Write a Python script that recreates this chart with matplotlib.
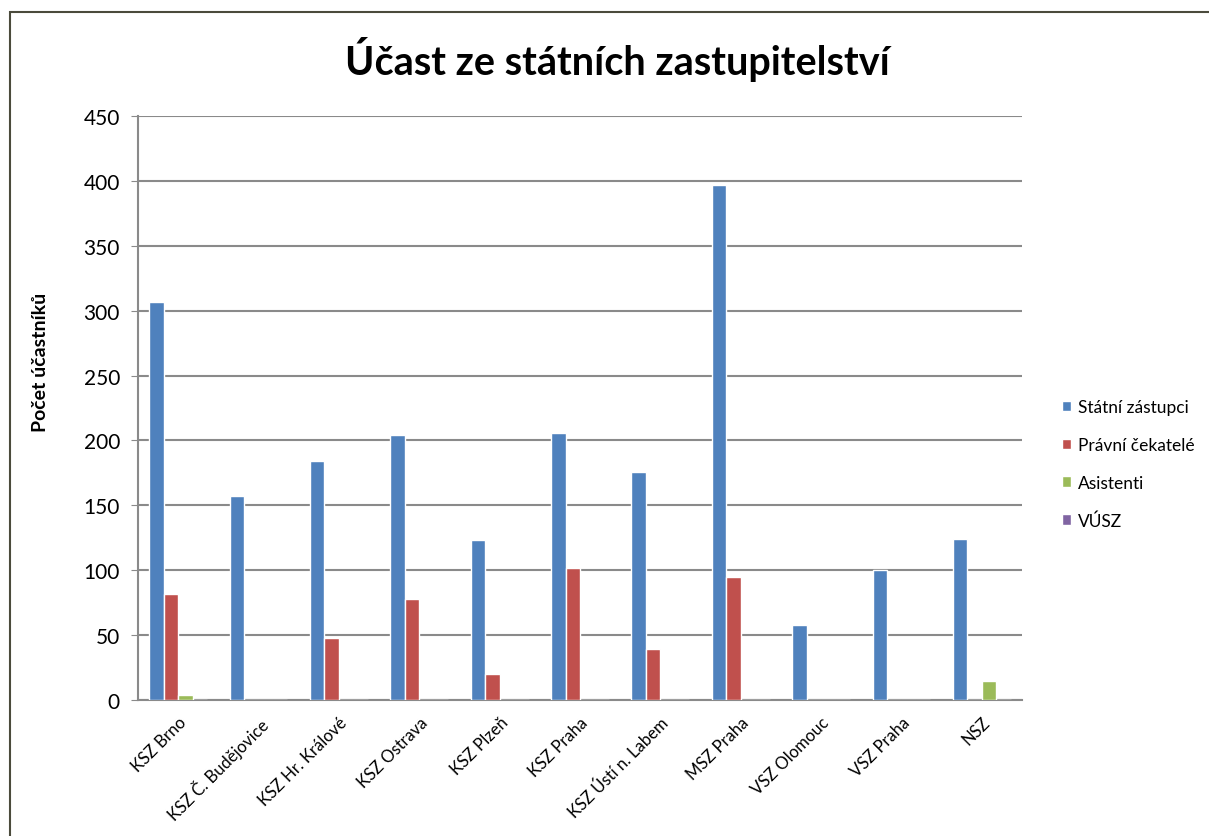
import matplotlib.pyplot as plt
import numpy as np
from matplotlib.patches import Rectangle

plt.rcParams['font.family'] = ['Lato', 'Open Sans', 'DejaVu Sans']

CATEGORIES = ["KSZ Brno", "KSZ Č. Budějovice", "KSZ Hr. Králové", "KSZ Ostrava",
              "KSZ Plzeň", "KSZ Praha", "KSZ Ústí n. Labem", "MSZ Praha",
              "VSZ Olomouc", "VSZ Praha", "NSZ"]
STATNI_ZASTUPCI = [307, 157, 184, 204, 123, 206, 176, 397, 58, 100, 124]
PRAVNI_CEKATELE = [82, 0, 48, 78, 20, 102, 39, 95, 0, 0, 0]
ASISTENTI = [4, 0, 0, 0, 0, 0, 0, 0, 0, 0, 15]
VUSZ = [0, 0, 0, 0, 0, 0, 0, 0, 0, 0, 0]

SERIES = [
    ("Státní zástupci", STATNI_ZASTUPCI, "#4F81BD"),
    ("Právní čekatelé", PRAVNI_CEKATELE, "#C0504D"),
    ("Asistenti", ASISTENTI, "#9BBB59"),
    ("VÚSZ", VUSZ, "#8064A2"),
]


def main():
    fig = plt.figure(figsize=(12.09, 8.37), dpi=100)
    # outer chart frame, cut off on the right and bottom like the reference
    fig.patches.append(Rectangle((10 / 1209, -0.05), 1.2, 1 - 13 / 837 + 0.05,
                                 transform=fig.transFigure, fill=False,
                                 edgecolor="#4b4b3c", linewidth=1.5))

    ax = fig.add_axes([138 / 1209, 1 - 701 / 837, 884 / 1209, 584 / 837])
    x = np.arange(len(CATEGORIES))
    width = 0.18
    handles = []
    for i, (name, values, color) in enumerate(SERIES):
        h = ax.bar(x + (i - 1.5) * width, values, width, color=color,
                   edgecolor="white", linewidth=1.0, label=name, zorder=3)
        handles.append(h)

    ax.set_xlim(-0.5, len(CATEGORIES) - 0.5)
    ax.set_ylim(0, 450)
    ax.set_yticks(range(0, 451, 50))
    ax.yaxis.grid(True, color="#8a8a8a", linewidth=1.5, zorder=0)
    ax.tick_params(axis="y", labelsize=15, length=5, color="#8a8a8a", pad=8)
    ax.set_xticks(x)
    ax.set_xticklabels(CATEGORIES, rotation=45, ha="right", rotation_mode="anchor",
                       fontsize=12)
    ax.tick_params(axis="x", length=0, pad=10)
    for side in ["top", "right"]:
        ax.spines[side].set_visible(False)
    for side in ["left", "bottom"]:
        ax.spines[side].set_color("#8a8a8a")
        ax.spines[side].set_linewidth(1.5)

    fig.text(40 / 1209, 1 - 362 / 837, "Počet účastníků", rotation=90,
             ha="center", va="center", fontsize=14, fontweight="bold")

    fig.text(617 / 1209, 1 - 60 / 837, "Účast ze státních zastupitelství",
             ha="center", va="center", fontsize=28.5, fontweight="bold")

    fig.legend(handles=handles, loc="center left",
               bbox_to_anchor=(1046 / 1209, 1 - 465 / 837), frameon=False,
               fontsize=12.5, handlelength=0.55, handleheight=0.55,
               handletextpad=0.4, labelspacing=1.25)

    fig.savefig("out.png", dpi=100)


if __name__ == "__main__":
    main()
